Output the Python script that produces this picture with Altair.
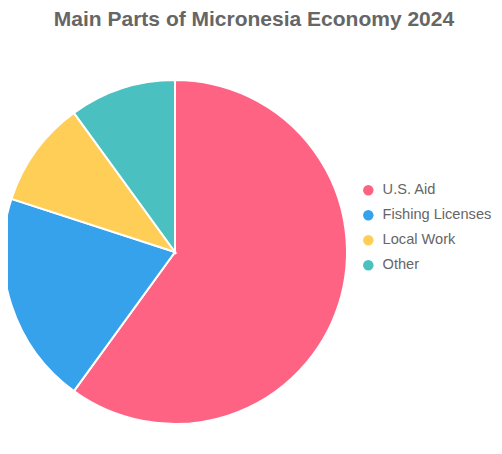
import altair as alt
import pandas as pd

categories = ["U.S. Aid", "Fishing Licenses", "Local Work", "Other"]
values = [60, 20, 10, 10]
colors = ["#FF6384", "#36A2EB", "#FFCE56", "#4BC0C0"]
title_text = "Main Parts of Micronesia Economy 2024"

df = pd.DataFrame({"category": categories, "value": values, "order": list(range(len(categories)))})

FONT = "Liberation Sans, Arial, Helvetica, sans-serif"

pie = alt.Chart(df).mark_arc(outerRadius=172, stroke="white", strokeWidth=2).encode(
    theta=alt.Theta("value:Q", stack=True),
    order=alt.Order("order:Q"),
    x=alt.value(167),
    y=alt.value(244),
    color=alt.Color(
        "category:N",
        scale=alt.Scale(domain=categories, range=colors),
        sort=categories,
        legend=alt.Legend(
            title=None,
            orient="none",
            legendX=353,
            legendY=175,
            symbolType="circle",
            symbolSize=110,
            symbolStrokeWidth=0,
            labelFontSize=14.6,
            labelFont=FONT,
            labelColor="#666666",
            labelOffset=7,
            rowPadding=10,
        ),
    ),
    tooltip=["category:N", "value:Q"],
)

title = alt.Chart(pd.DataFrame({"t": [title_text]})).mark_text(
    font=FONT, fontSize=21, fontWeight="bold", color="#666666", baseline="top", align="center"
).encode(text="t:N", x=alt.value(246), y=alt.value(1))

chart = alt.layer(pie, title).properties(
    width=486, height=438, padding=0, autosize=alt.AutoSizeParams(type="none")
).configure_view(stroke=None)

chart.save("out.html", embed_options={"renderer": "svg", "actions": False})
